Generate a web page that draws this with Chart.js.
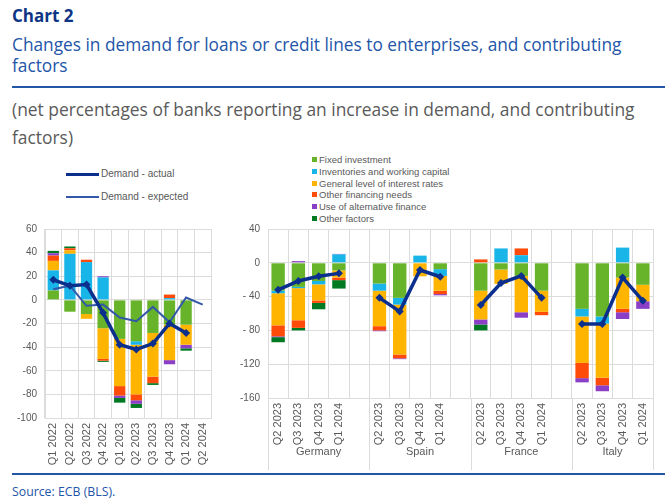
<!DOCTYPE html>
<html><head><meta charset="utf-8">
<script src="https://cdn.jsdelivr.net/npm/chart.js@4/dist/chart.umd.min.js"></script>
<style>
body{margin:0;width:668px;height:499px;background:#fff;position:relative;overflow:hidden;font-family:"Liberation Sans",Arial,sans-serif;}
.abs{position:absolute;white-space:nowrap;}
#t0{left:12px;top:4px;font:bold 17px "Open Sans";color:#0d3585;}
#t1{left:12px;top:34px;font:17.3px/21px "Open Sans";color:#2355a8;}
#r1{left:12px;top:86px;width:653px;height:2px;background:#2355a8;}
#t2{left:12px;top:95px;font:17.4px/28px "Open Sans";color:#5a5a5a;}
#r2{left:12px;top:473px;width:653px;height:2px;background:#2355a8;}
#src{left:12px;top:483px;font:12.3px "Open Sans";color:#2355a8;}
.leg{font-size:10px;color:#595959;}
.lline{position:absolute;width:33px;}
.sq{display:inline-block;width:5px;height:5px;margin-right:2px;vertical-align:1px;}
#rleg{left:312px;top:154px;font-size:9.5px;line-height:11.8px;color:#595959;}
canvas{position:absolute;}
</style></head>
<body>
<div class="abs" id="t0">Chart 2</div>
<div class="abs" id="t1">Changes in demand for loans or credit lines to enterprises, and contributing<br>factors</div>
<div class="abs" id="r1"></div>
<div class="abs" id="t2">(net percentages of banks reporting an increase in demand, and contributing<br>factors)</div>
<div class="abs" id="llegend"></div>
<div class="abs" id="rleg"></div>
<canvas id="c1" width="225" height="262" style="left:0;top:215px;width:225px;height:262px"></canvas>
<canvas id="c2" width="443" height="262" style="left:225px;top:215px;width:443px;height:262px"></canvas>
<div class="abs" id="r2"></div>
<div class="abs" id="src">Source: ECB (BLS).</div>
<script>
// ---------- data: euro area ----------
const euroLabels = ['Q1 2022','Q2 2022','Q3 2022','Q4 2022','Q1 2023','Q2 2023','Q3 2023','Q4 2023','Q1 2024','Q2 2024'];
const euroFixed     = [8, -10, -12, -24, -33, -35, -28, -21, -21, null];
const euroInventory = [17, 39, 32, 19, 0, -3, 0, 1.5, 0, null];
const euroInterest  = [8, 3, -4, -26, -40, -42, -37, -30, -17, null];
const euroOtherFin  = [4.5, 1.7, 2, -1.5, -8, -5, -5.5, 3, 0, null];
const euroAltFin    = [2, 0, 0, 1, -2, -3, 0, -3.5, -3, null];
const euroOther     = [2, 1.5, 0, -1, -4, -3.5, -1.5, 0, -2, null];
const euroActual    = [17, 12, 13, -11, -38, -42, -37, -20, -28, null];
const euroExpected  = [9, 12, -5, -4, -15, -18, -6, -19, 2, -4];
const euroTicks = [60, 40, 20, 0, -20, -40, -60, -80, -100];

// ---------- data: countries ----------
const countryLabels = ['Q2 2023','Q3 2023','Q4 2023','Q1 2024','',
                       'Q2 2023','Q3 2023','Q4 2023','Q1 2024','',
                       'Q2 2023','Q3 2023','Q4 2023','Q1 2024','',
                       'Q2 2023','Q3 2023','Q4 2023','Q1 2024'];
const countryNames = ['Germany','Spain','France','Italy'];
const countryGroupStart = [0, 5, 10, 15];
const countryGroupEnd   = [5, 10, 15, 19];
const ctyFixed     = [-33,-28.5,-21.5,-9,null, -24.5,-41.5,0,-7.5,null, -33,-8,-15.5,-33,null, -54.5,-63.5,-17.5,-26];
const ctyInventory = [-3,-1.5,-4,10,null, -8.5,-8,8.5,-8,null, 0,17,9,0,null, -9,-8.5,18,0];
const ctyInterest  = [-38,-38,-19,-8.5,null, -42,-59,-16,-17.5,null, -34,-17,-43,-25,null, -55,-64,-37,-19.5];
const ctyOtherFin  = [-13,-9,-3,-3,null, -5,-4.5,0,-4,null, 4,0,8,-4,null, -18,-9,-4,0];
const ctyAltFin    = [-1,2,0,0.5,null, -1,-1,0,-1.5,null, -6,0,-6.5,0,null, -5,-7,-8,-9];
const ctyOther     = [-6,-3,-7.5,-10,null, 0,0,0,0,null, -7,0,0,0,null, 0,0,0,0];
const ctyActual    = [-32,-21.5,-16,-12.5,null, -41.5,-57.5,-8.5,-16.5,null, -50,-24,-15.5,-41.5,null, -72.5,-72.5,-17.5,-45];
const ctyTicks = [40, 0, -40, -80, -120, -160];
const ctyTickText = ['40', '0', '- 40', '- 80', '-120', '-160'];

const factorNames = ['Fixed investment','Inventories and working capital','General level of interest rates','Other financing needs','Use of alternative finance','Other factors'];
const factorColors = ['#67b32a','#19b4e8','#ffb400','#ff4b0a','#8a3fc6','#007a22'];
const lineNames = ['Demand - actual','Demand - expected'];
const lineColors = ['#0b2f8c','#3358a8'];

// ---------- legends (HTML text) ----------
(function(){
  const rl = document.getElementById('rleg');
  rl.innerHTML = factorNames.map((n,i)=>`<div><span class="sq" style="background:${factorColors[i]}"></span>${n}</div>`).join('');
  const ll = document.getElementById('llegend');
  ll.style.left='66px'; ll.style.top='167px';
  ll.innerHTML =
   `<div class="leg" style="position:absolute;left:0;top:0;height:14px;width:130px"><div class="lline" style="top:6px;height:3px;background:${lineColors[0]}"></div><span style="position:absolute;left:35px;top:1px">${lineNames[0]}</span></div>`+
   `<div class="leg" style="position:absolute;left:0;top:23px;height:14px;width:130px"><div class="lline" style="top:6px;height:2px;background:${lineColors[1]}"></div><span style="position:absolute;left:35px;top:1px">${lineNames[1]}</span></div>`;
})();

const gridColor = '#dcdcdc';
const tickFont = {family:'"Liberation Sans", Arial, sans-serif', size:10};

function barSets(vals, pct){
  return vals.map((v,i)=>({type:'bar', label:factorNames[i], data:v, backgroundColor:factorColors[i],
    barPercentage:pct, categoryPercentage:1, order:2, borderWidth:0}));
}

// ---------- left chart ----------
new Chart(document.getElementById('c1'), {
  data:{labels:euroLabels, datasets:[
    {type:'line', label:lineNames[0], data:euroActual, borderColor:lineColors[0], backgroundColor:lineColors[0],
     borderWidth:3.5, pointStyle:'rectRot', pointRadius:4, pointBorderWidth:0, stack:'a', order:0, spanGaps:false},
    {type:'line', label:lineNames[1], data:euroExpected, borderColor:lineColors[1], borderWidth:2, pointRadius:0, stack:'e', order:1},
    ...barSets([euroFixed,euroInventory,euroInterest,euroOtherFin,euroAltFin,euroOther], 0.68)
  ]},
  options:{responsive:false, animation:false, devicePixelRatio:1,
    layout:{padding:{top:11, right:14, left:0, bottom:0}},
    plugins:{legend:{display:false}, tooltip:{enabled:false}},
    scales:{
      x:{stacked:true, grid:{color:gridColor, drawTicks:false, offset:true}, border:{color:gridColor},
         ticks:{font:{...tickFont, size:11}, color:'#595959', minRotation:90, maxRotation:90, padding:5, autoSkip:false},
         afterFit:s=>{s.height=59;}},
      y:{stacked:true, min:-100, max:60, grid:{color:gridColor, drawTicks:false}, border:{color:gridColor},
         afterBuildTicks:s=>{s.ticks=euroTicks.map(v=>({value:v}));},
         ticks:{font:tickFont, color:'#595959', padding:8},
         afterFit:s=>{s.width=45;}}
    }}
});

// ---------- right chart ----------
const groupPlugin = {
  id:'groups',
  afterDraw(chart){
    const xs = chart.scales.x, a = chart.chartArea, ctx = chart.ctx;
    const half = (xs.getPixelForValue(1)-xs.getPixelForValue(0))/2;
    const edge = i => i < countryLabels.length ? xs.getPixelForValue(i)-half : xs.getPixelForValue(countryLabels.length-1)+half;
    ctx.save();
    ctx.strokeStyle = gridColor; ctx.lineWidth = 1;
    const bounds = [...new Set([...countryGroupStart, ...countryGroupEnd])];
    bounds.forEach(b=>{const x=Math.round(edge(b))+0.5; ctx.beginPath(); ctx.moveTo(x,a.bottom); ctx.lineTo(x,a.bottom+72); ctx.stroke();});
    ctx.fillStyle='#595959'; ctx.font='11px "Liberation Sans", Arial, sans-serif'; ctx.textAlign='center'; ctx.textBaseline='middle';
    countryNames.forEach((n,i)=>{ ctx.fillText(n, (edge(countryGroupStart[i])+edge(countryGroupEnd[i]))/2, a.bottom+54); });
    ctx.restore();
  }
};
new Chart(document.getElementById('c2'), {
  data:{labels:countryLabels, datasets:[
    {type:'line', label:lineNames[0], data:ctyActual, borderColor:lineColors[0], backgroundColor:lineColors[0],
     borderWidth:3.5, pointStyle:'rectRot', pointRadius:4, pointBorderWidth:0, stack:'a', order:0, spanGaps:false},
    ...barSets([ctyFixed,ctyInventory,ctyInterest,ctyOtherFin,ctyAltFin,ctyOther], 0.66)
  ]},
  plugins:[groupPlugin],
  options:{responsive:false, animation:false, devicePixelRatio:1,
    layout:{padding:{top:12, right:15, left:0, bottom:0}},
    plugins:{legend:{display:false}, tooltip:{enabled:false}},
    scales:{
      x:{stacked:true, grid:{color:gridColor, drawTicks:false, offset:true}, border:{color:gridColor},
         ticks:{font:{...tickFont, size:11}, color:'#595959', minRotation:90, maxRotation:90, padding:5, autoSkip:false},
         afterFit:s=>{s.height=79;}},
      y:{stacked:true, min:-160, max:40, grid:{color:gridColor, drawTicks:false}, border:{color:gridColor},
         afterBuildTicks:s=>{s.ticks=ctyTicks.map(v=>({value:v}));},
         ticks:{font:tickFont, color:'#595959', padding:8, callback:(v)=>ctyTickText[ctyTicks.indexOf(v)]},
         afterFit:s=>{s.width=43;}}
    }}
});
</script>
</body></html>
